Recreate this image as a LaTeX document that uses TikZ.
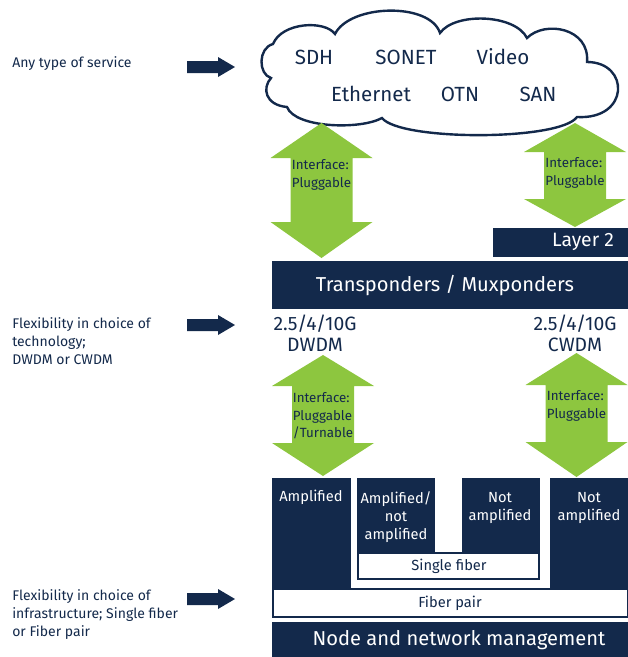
\documentclass[tikz,border=0pt]{standalone}
\usepackage{fontspec}
\setmainfont{Fira Sans}
\usepackage{tikz}
\usetikzlibrary{positioning}
\definecolor{cNavy}{RGB}{19,41,75}
\definecolor{cGreen}{RGB}{141,198,63}
% green double arrow: centre x, top, bottom, top head, bottom head
\newcommand{\dblarrow}[5]{%
  \fill[cGreen] (#1,#2) -- ({#1+51},{#2+#4}) -- ({#1+31},{#2+#4}) -- ({#1+31},{#3-#5})
    -- ({#1+51},{#3-#5}) -- (#1,#3) -- ({#1-51},{#3-#5}) -- ({#1-31},{#3-#5})
    -- ({#1-31},{#2+#4}) -- ({#1-51},{#2+#4}) -- cycle;}

\begin{document}
\begin{tikzpicture}[
    x=0.75pt, y=-0.75pt,
    side/.style={font=\fontsize{10.5}{13.5}\selectfont,text=cNavy,align=left,inner sep=0},
    svc/.style={font=\fontsize{15.4}{18}\selectfont,text=cNavy,inner sep=0},
    iface/.style={font=\fontsize{10}{13}\selectfont,text=cNavy,align=left,inner sep=0},
    rate/.style={font=\fontsize{14.5}{15.75}\selectfont,text=cNavy,align=center,inner sep=0},
    bartext/.style={font=\fontsize{15.1}{18}\selectfont,text=white,inner sep=0},
    boxtext/.style={font=\fontsize{11}{13.5}\selectfont,align=center,inner sep=0},
  ]
  \useasboundingbox (0,0) rectangle (628,657);

  % left hand labels
  \node[side,anchor=west] (service) at (12,64) {Any type of service};
  \node[side,anchor=north west] (tech) at (12,317) {Flexibility in choice of\\technology;\\DWDM or CWDM};
  \node[side,anchor=north west] (infra) at (12,589) {Flexibility in choice of\\infrastructure; Single fiber\\or Fiber pair};
  \foreach \y in {67,325,599}
    \fill[cNavy] (187,\y-6) -- (218,\y-6) -- (218,\y-10) -- (235,\y) -- (218,\y+10) -- (218,\y+6) -- (187,\y+6) -- cycle;

  % service cloud
  \draw[cNavy,line width=1.8pt,fill=white]
    (271,78) .. controls (258,74) and (258,48) .. (273,44)
    .. controls (282,22) and (325,20) .. (335,34)
    .. controls (350,4) and (430,2) .. (440,33)
    .. controls (455,12) and (515,14) .. (527,38)
    .. controls (545,20) and (590,28) .. (587,62)
    .. controls (630,62) and (630,120) .. (577,117)
    .. controls (560,141) and (400,141) .. (382,118)
    .. controls (360,130) and (295,128) .. (287,107)
    .. controls (265,105) and (262,88) .. (271,78) -- cycle;
  \node[svc] (sdh) at (314,57) {SDH};
  \node[svc] (sonet) at (406,57) {SONET};
  \node[svc] (video) at (503,57) {Video};
  \node[svc] (eth) at (371,94) {Ethernet};
  \node[svc] (otn) at (460,94) {OTN};
  \node[svc] (san) at (538,94) {SAN};

  % interfaces to the transponders
  \dblarrow{321.5}{123}{258}{35}{36}
  \dblarrow{575}{123}{227}{29}{28}
  \node[iface] (ifa) at (321.5,175) {Interface:\\Pluggable};
  \node[iface] (ifb) at (575,173) {Interface:\\Pluggable};

  \fill[cNavy] (493,228) rectangle (628,257);
  \node[bartext,font=\fontsize{14.5}{18}\selectfont] (layer) at (583,242) {Layer 2};
  \fill[cNavy] (272,261) rectangle (628,309);
  \node[bartext] (trans) at (445,286) {Transponders / Muxponders};

  \node[rate] (dwdm) at (315,333) {2.5/4/10G\\DWDM};
  \node[rate] (cwdm) at (575,333) {2.5/4/10G\\CWDM};

  % interfaces to the line
  \dblarrow{323}{355}{476}{31}{33}
  \dblarrow{576.5}{353}{477}{32}{35}
  \node[iface] (ifc) at (323,416) {Interface:\\Pluggable\\/Turnable};
  \node[iface] (ifd) at (576.5,406) {Interface:\\Pluggable};

  % infrastructure
  \fill[cNavy] (272,478) rectangle (351,588);
  \fill[cNavy] (357,478) rectangle (435,552);
  \fill[cNavy] (462,478) rectangle (540,552);
  \fill[cNavy] (357,552) rectangle (540,580);
  \fill[cNavy] (550,478) rectangle (628,588);
  \fill[white] (359,554) rectangle (538,578);
  \draw[cNavy,line width=1pt,fill=white] (273,589) rectangle (628,617);
  \fill[cNavy] (272,622) rectangle (628,657);

  \node[boxtext,text=white] (amp) at (311,497) {Amplified};
  \node[boxtext,text=white] (ampnot) at (396,517) {Amplified/\\not\\amplified};
  \node[boxtext,text=white] (notsf) at (500,508) {Not\\amplified};
  \node[boxtext,text=white] (notfp) at (589,508) {Not\\amplified};
  \node[boxtext,text=cNavy] (single) at (449,566) {Single fiber};
  \node[boxtext,text=cNavy] (pair) at (450,603) {Fiber pair};
  \node[bartext] (mgmt) at (459,640) {Node and network management};
\end{tikzpicture}
\end{document}
